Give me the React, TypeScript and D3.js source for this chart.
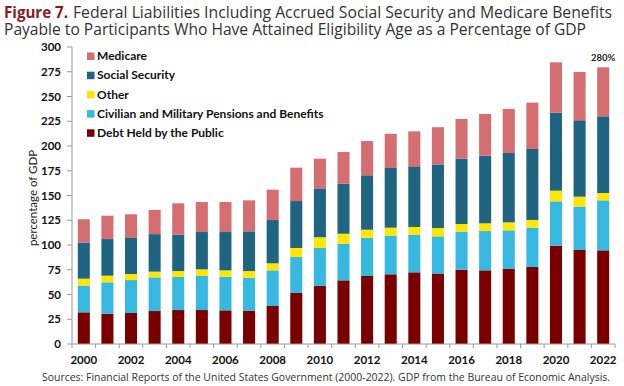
import React from "react";
import * as d3 from "d3";

const years = ["2000","2001","2002","2003","2004","2005","2006","2007","2008","2009","2010","2011","2012","2013","2014","2015","2016","2017","2018","2019","2020","2021","2022"];
const debtHeld = [32, 30.6, 31.3, 33.3, 34.3, 34.3, 34, 33.7, 38.4, 51.5, 58.9, 64.3, 68.7, 70.4, 72.4, 71.2, 75.1, 74.4, 76.1, 77.8, 99.3, 95, 94.6];
const pensions = [27, 31.7, 33.3, 34, 33.4, 34.4, 34, 33.3, 36, 36.4, 38.1, 37, 38.7, 39, 38, 37.5, 38.4, 39.7, 38.7, 39.7, 44.8, 43.7, 50.5];
const other = [7, 6.7, 6.1, 5.8, 6, 6.7, 6.4, 6.7, 7.1, 9.1, 10.8, 10.1, 8.1, 8.1, 7.8, 8.4, 7.7, 7.8, 8.1, 7.8, 10.8, 10.1, 7.4];
const socialSecurity = [36.5, 37, 37, 37.9, 36.7, 37.7, 38.7, 40.1, 43.8, 47.4, 49.4, 50.5, 54.9, 60.3, 61.3, 64.3, 66, 68.3, 70, 71.7, 78.7, 77.2, 77.5];
const medicare = [23.5, 23.6, 23.3, 24.4, 31.7, 30.3, 30.3, 31.3, 30.6, 33.7, 30, 32, 34.6, 34.6, 35.3, 37.6, 40.1, 42.1, 44.5, 46.8, 50.9, 48.7, 49.5];
const yTicks = [0, 25, 50, 75, 100, 125, 150, 175, 200, 225, 250, 275, 300];
const xTickLabels = ["2000","2002","2004","2006","2008","2010","2012","2014","2016","2018","2020","2022"];
const seriesNames = ["Debt Held by the Public", "Civilian and Military Pensions and Benefits", "Other", "Social Security", "Medicare"];
const seriesColors = ["#7a0000", "#36b8e0", "#ffe600", "#1f6480", "#d46e70"];
const legendOrder = ["Medicare", "Social Security", "Other", "Civilian and Military Pensions and Benefits", "Debt Held by the Public"];
const endLabel = "280%";

const W = 624, H = 386;
const left = 72, right = 615, top = 47, bottom = 344;
const labelFont = "Lato, 'Open Sans', sans-serif";
const titleFont = "'Open Sans', sans-serif";

export default function App() {
  const x = d3.scaleBand<string>().domain(years).range([left, right]).paddingInner(0.49).paddingOuter(0.245);
  const y = d3.scaleLinear().domain([0, 300]).range([bottom, top]);
  const seriesData = [debtHeld, pensions, other, socialSecurity, medicare];
  const table = years.map((yr, i) => {
    const row: any = { year: yr };
    seriesNames.forEach((n, k) => (row[n] = seriesData[k][i]));
    return row;
  });
  const stack = d3.stack<any>().keys(seriesNames)(table);
  const colorOf = (n: string) => seriesColors[seriesNames.indexOf(n)];
  const step = x.step();
  const boundaries = d3.range(years.length + 1).map((i) => left + i * step);
  const lastIdx = years.length - 1;
  const lastTop = stack[stack.length - 1][lastIdx][1];

  return (
    <svg width={W} height={H} style={{ position: "absolute", left: 0, top: 0, background: "#fff" }}>
      <text x={4} y={18} fontFamily={titleFont} fontSize={16} fontWeight="bold" fill="#8b1a1f" textLength={64} lengthAdjust="spacingAndGlyphs">Figure 7.</text>
      <text x={73} y={18} fontFamily={titleFont} fontSize={16} fill="#333" textLength={539} lengthAdjust="spacingAndGlyphs">
        Federal Liabilities Including Accrued Social Security and Medicare Benefits
      </text>
      <text x={4} y={35} fontFamily={titleFont} fontSize={16} fill="#333" textLength={582} lengthAdjust="spacingAndGlyphs">
        Payable to Participants Who Have Attained Eligibility Age as a Percentage of GDP
      </text>

      {stack.map((s) => (
        <g key={s.key} fill={colorOf(s.key)}>
          {s.map((d, i) => (
            <rect key={i} x={x(years[i])} width={x.bandwidth()} y={y(d[1])} height={y(d[0]) - y(d[1])} />
          ))}
        </g>
      ))}

      {/* y axis */}
      <line x1={left} x2={left} y1={top} y2={bottom} stroke="#9a9a9a" strokeWidth={1} />
      {yTicks.map((t) => (
        <g key={t}>
          <line x1={left - 5} x2={left} y1={y(t)} y2={y(t)} stroke="#9a9a9a" />
          <text x={61} y={y(t)} dy="0.35em" textAnchor="end" fontFamily={labelFont} fontWeight="bold" fontSize={11.5} fill="#111">{t}</text>
        </g>
      ))}
      <text transform={`translate(37,198) rotate(-90)`} textAnchor="middle" fontFamily={labelFont} fontSize={11.5} fill="#222">percentage of GDP</text>

      {/* x axis */}
      <line x1={left} x2={right} y1={bottom} y2={bottom} stroke="#9a9a9a" />
      {boundaries.map((b, i) => (
        <line key={i} x1={b} x2={b} y1={bottom} y2={bottom + 4} stroke="#9a9a9a" />
      ))}
      {xTickLabels.map((t) => (
        <text key={t} x={(x(t) as number) + x.bandwidth() / 2} y={364} textAnchor="middle" fontFamily={labelFont} fontWeight="bold" fontSize={11.5} fill="#111">{t}</text>
      ))}

      <text x={(x(years[lastIdx]) as number) + x.bandwidth() / 2} y={y(lastTop) - 6} textAnchor="middle" fontFamily={labelFont} fontWeight="bold" fontSize={9.5} fill="#222">{endLabel}</text>

      {/* legend */}
      {legendOrder.map((n, i) => (
        <g key={n} transform={`translate(87,${56 + i * 19.2})`}>
          <rect x={0} y={-3.5} width={7.5} height={7.5} fill={colorOf(n)} />
          <text x={10} y={0} dy="0.35em" fontFamily={labelFont} fontWeight="bold" fontSize={12} fill="#111">{n}</text>
        </g>
      ))}

      <text x={326} y={381} textAnchor="middle" fontFamily={titleFont} fontSize={10.5} fill="#333" textLength={568} lengthAdjust="spacingAndGlyphs">
        Sources: Financial Reports of the United States Government (2000-2022).  GDP from the Bureau of Economic Analysis.
      </text>
    </svg>
  );
}
